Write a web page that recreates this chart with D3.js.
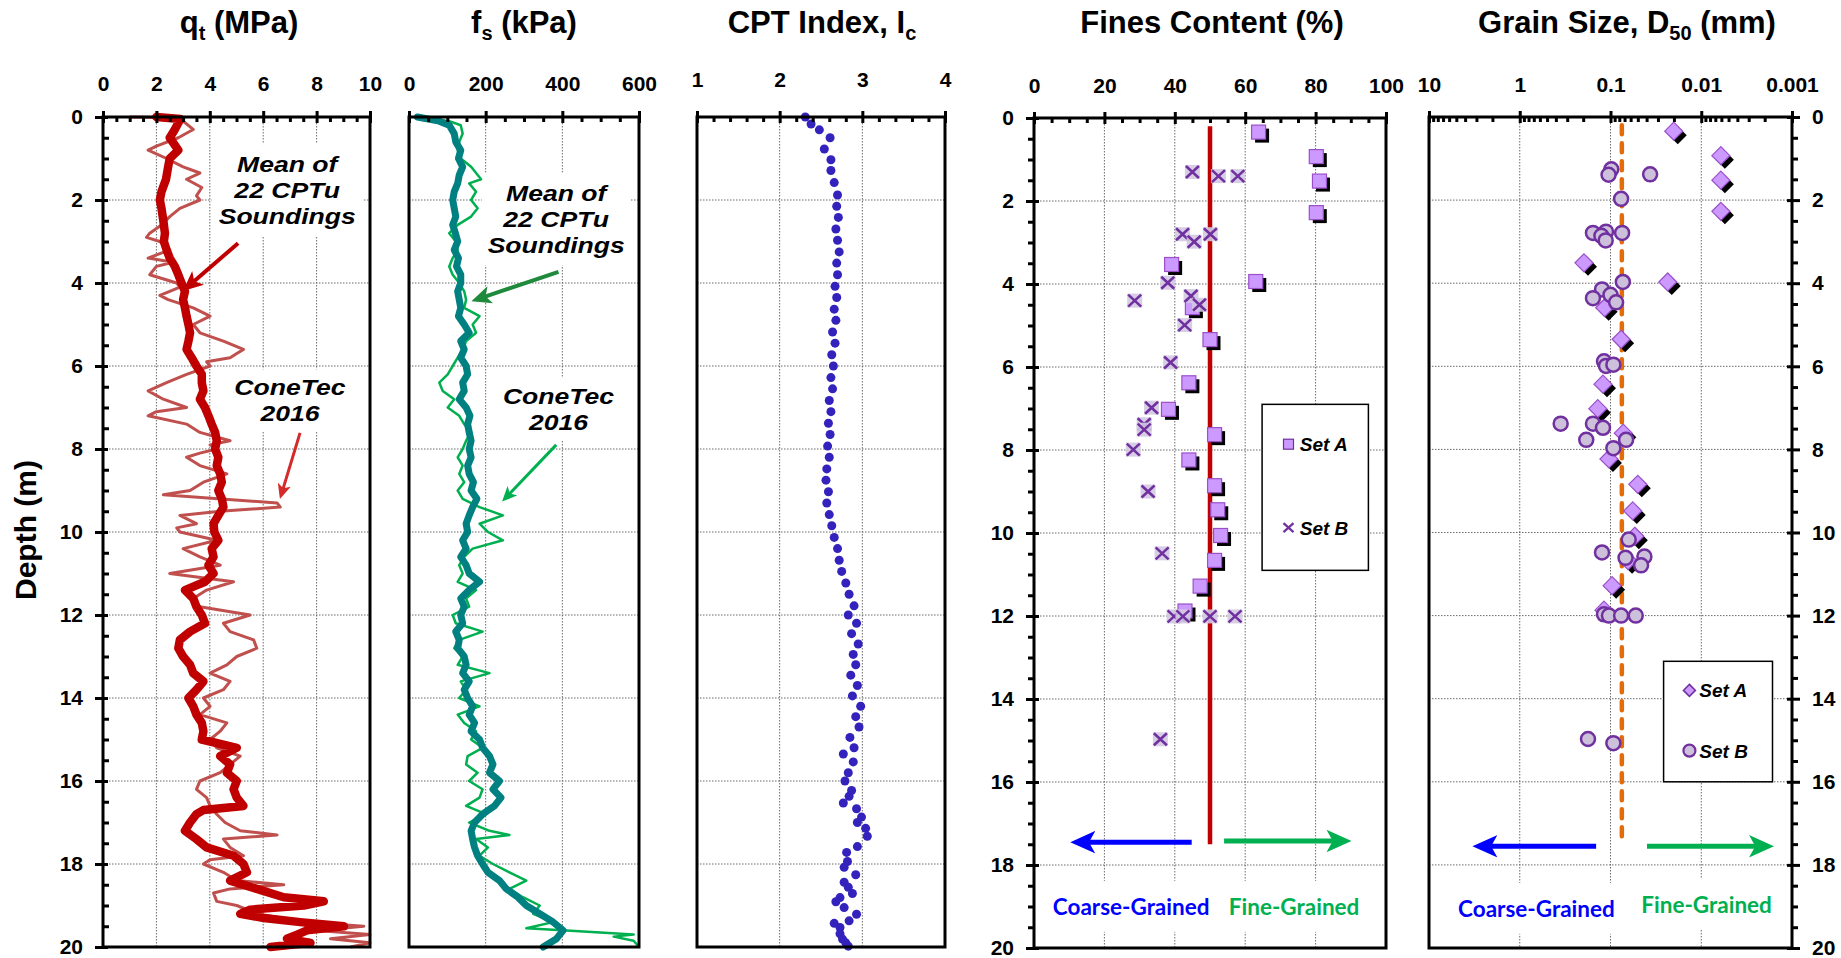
<!DOCTYPE html>
<html>
<head>
<meta charset="utf-8">
<script src="https://cdn.jsdelivr.net/npm/d3@7"></script>
<style>
  body { margin: 0; background: #fff; }
</style>
</head>
<body>
<svg id="chart" width="1841" height="958"></svg>
<script>
// ---- tick labels ----
const depthTicks = [0, 2, 4, 6, 8, 10, 12, 14, 16, 18, 20];
const qtTicks = [0, 2, 4, 6, 8, 10];
const fsTicks = [0, 200, 400, 600];
const icTicks = [1, 2, 3, 4];
const fcTicks = [0, 20, 40, 60, 80, 100];
const d50Ticks = [10, 1, 0.1, 0.01, 0.001];
const d50Labels = ['10', '1', '0.1', '0.01', '0.001'];

// ---- series: [depth (m), value] ----
const qtMean = [[0,2.0],[0.05,2.9],[0.3,2.69],[0.5,2.5],[0.8,2.82],[1.0,2.5],[1.2,2.44],[1.5,2.36],[1.8,2.19],[2.0,2.13],[2.2,2.19],[2.5,2.26],[2.8,2.32],[3.0,2.28],[3.2,2.38],[3.4,2.5],[3.6,2.69],[3.8,2.82],[4.0,2.94],[4.2,3.07],[4.4,3.0],[4.6,3.07],[4.8,3.13],[5.0,3.2],[5.2,3.26],[5.4,3.2],[5.6,3.13],[5.8,3.32],[6.0,3.5],[6.2,3.7],[6.4,3.7],[6.6,3.76],[6.8,3.63],[7.0,3.82],[7.2,3.95],[7.4,4.07],[7.6,4.2],[7.8,4.26],[8.0,4.2],[8.2,4.32],[8.4,4.26],[8.6,4.39],[8.8,4.45],[9.0,4.32],[9.2,4.45],[9.4,4.51],[9.6,4.32],[9.8,4.14],[10.0,4.17],[10.2,4.32],[10.4,4.07],[10.6,4.14],[10.8,3.95],[11.0,4.14],[11.2,3.82],[11.4,3.07],[11.6,3.38],[11.8,3.5],[12.0,3.7],[12.2,3.82],[12.4,3.26],[12.6,2.88],[12.8,2.82],[13.0,3.0],[13.2,3.26],[13.4,3.38],[13.6,3.76],[13.8,3.5],[14.0,3.2],[14.2,3.38],[14.4,3.5],[14.6,3.7],[14.8,3.76],[15.0,3.7],[15.2,5.01],[15.4,4.39],[15.6,4.76],[15.8,4.64],[16.0,5.01],[16.2,4.89],[16.4,5.01],[16.6,5.26],[16.7,3.76],[16.8,3.5],[17.0,3.26],[17.2,3.07],[17.4,3.5],[17.6,3.88],[17.8,4.89],[18.0,5.26],[18.2,5.39],[18.4,4.76],[18.6,5.76],[18.8,6.77],[18.9,8.27],[19.0,7.52],[19.1,5.51],[19.2,5.14],[19.3,6.02],[19.4,7.39],[19.5,9.02],[19.6,7.64],[19.7,7.27],[19.8,6.89],[19.9,7.77],[20.0,6.27]];

const qtConeTec = [[0,1.0],[0.02,3.0],[0.1,3.0],[0.3,3.38],[0.5,2.82],[0.7,2.0],[0.8,1.69],[1.0,2.38],[1.2,3.0],[1.35,3.63],[1.5,3.13],[1.7,3.7],[1.9,3.5],[2.0,3.63],[2.2,2.88],[2.4,2.5],[2.6,2.19],[2.8,1.75],[2.9,1.63],[3.0,2.13],[3.2,2.5],[3.4,1.69],[3.5,2.63],[3.6,2.0],[3.8,1.75],[4.0,2.76],[4.1,2.88],[4.2,2.5],[4.3,2.13],[4.4,2.44],[4.6,3.38],[4.8,4.01],[5.0,3.38],[5.2,3.63],[5.4,4.51],[5.6,5.26],[5.7,5.01],[5.8,4.76],[5.9,3.88],[6.0,4.01],[6.2,3.13],[6.4,2.38],[6.6,1.69],[6.8,2.26],[7.0,3.13],[7.1,2.0],[7.2,1.69],[7.4,3.13],[7.6,3.63],[7.8,4.76],[7.9,4.01],[8.0,4.26],[8.1,3.63],[8.2,3.13],[8.4,3.63],[8.6,4.64],[8.8,3.76],[9.0,3.26],[9.1,2.26],[9.3,6.52],[9.4,6.64],[9.5,4.39],[9.6,2.88],[9.8,3.5],[9.9,2.76],[10.0,2.88],[10.2,4.26],[10.4,3.0],[10.6,3.63],[10.8,4.39],[11.0,2.5],[11.2,4.89],[11.4,3.88],[11.6,3.38],[11.8,3.63],[12.0,5.51],[12.2,4.51],[12.4,4.76],[12.6,5.64],[12.8,5.76],[13.0,5.01],[13.2,4.64],[13.4,4.01],[13.6,4.76],[13.8,4.51],[14.0,3.76],[14.2,4.01],[14.4,3.63],[14.6,4.64],[14.8,4.39],[15.0,4.01],[15.2,4.26],[15.4,5.14],[15.6,4.76],[15.8,4.39],[16.0,3.63],[16.2,3.5],[16.4,3.88],[16.6,4.01],[16.8,4.26],[17.0,4.57],[17.2,5.14],[17.3,6.52],[17.4,4.51],[17.6,4.76],[17.8,5.26],[17.9,4.01],[18.0,3.76],[18.2,4.51],[18.4,5.01],[18.5,6.77],[18.6,4.76],[18.7,4.14],[18.9,4.26],[19.0,5.01],[19.2,5.76],[19.4,7.52],[19.5,9.77],[19.6,8.02],[19.7,10.0],[19.8,8.52],[19.9,10.0],[20.0,9.27]];

const fsMean = [[0,22],[0.1,79],[0.2,105],[0.4,118],[0.6,122],[0.8,135],[1.0,129],[1.2,140],[1.4,131],[1.6,127],[1.8,118],[2.0,114],[2.2,118],[2.4,122],[2.6,114],[2.8,121],[3.0,127],[3.2,118],[3.4,129],[3.6,124],[3.8,135],[4.0,135],[4.2,127],[4.4,131],[4.6,135],[4.8,129],[5.0,144],[5.2,157],[5.4,135],[5.6,144],[5.8,135],[6.0,149],[6.2,153],[6.4,140],[6.6,144],[6.8,131],[7.0,149],[7.2,159],[7.4,153],[7.6,157],[7.8,162],[8.0,157],[8.2,162],[8.4,153],[8.6,157],[8.8,168],[9.0,162],[9.2,177],[9.4,166],[9.6,157],[9.8,149],[10.0,153],[10.2,140],[10.4,149],[10.6,135],[10.8,149],[11.0,157],[11.2,184],[11.4,157],[11.6,135],[11.8,144],[12.0,135],[12.2,140],[12.4,122],[12.6,131],[12.8,127],[13.0,144],[13.2,149],[13.4,140],[13.6,157],[13.8,144],[14.0,153],[14.2,166],[14.4,157],[14.6,171],[14.8,162],[15.0,184],[15.2,192],[15.4,210],[15.6,219],[15.8,210],[16.0,236],[16.2,219],[16.4,240],[16.6,223],[16.8,192],[17.0,171],[17.2,162],[17.4,166],[17.6,171],[17.8,179],[18.0,192],[18.2,206],[18.4,236],[18.6,254],[18.8,284],[19.0,306],[19.2,341],[19.4,376],[19.6,402],[19.8,385],[20.0,350]];

const fsConeTec = [[0,22],[0.1,105],[0.2,135],[0.4,140],[0.6,131],[0.8,127],[1.0,135],[1.2,162],[1.5,188],[1.6,157],[1.8,175],[2.0,162],[2.2,179],[2.4,162],[2.6,127],[2.8,105],[3.0,122],[3.2,127],[3.4,114],[3.6,105],[3.8,114],[4.0,131],[4.2,144],[4.4,149],[4.6,144],[4.8,184],[5.0,166],[5.2,175],[5.4,149],[5.6,140],[5.8,127],[6.0,114],[6.2,101],[6.4,79],[6.6,88],[6.8,118],[7.0,101],[7.2,131],[7.4,144],[7.6,162],[7.8,149],[8.0,140],[8.2,127],[8.4,140],[8.6,131],[8.8,144],[9.0,127],[9.2,140],[9.4,184],[9.6,245],[9.8,184],[10.0,206],[10.2,245],[10.4,166],[10.6,144],[10.8,131],[11.0,140],[11.2,127],[11.4,175],[11.6,149],[11.8,157],[12.0,114],[12.2,122],[12.4,192],[12.6,131],[12.8,118],[13.0,140],[13.2,127],[13.4,210],[13.6,135],[13.8,149],[14.0,131],[14.2,184],[14.4,127],[14.6,144],[14.8,175],[15.0,162],[15.2,192],[15.4,153],[15.6,149],[15.8,179],[16.0,157],[16.2,192],[16.4,184],[16.6,149],[16.8,201],[17.0,157],[17.2,210],[17.3,262],[17.4,175],[17.6,206],[17.8,184],[18.0,219],[18.2,262],[18.4,306],[18.6,262],[18.8,297],[19.0,341],[19.2,324],[19.4,376],[19.55,306],[19.6,411],[19.7,586],[19.75,534],[19.85,586],[20.0,600]];

const icPoints = [[0.0,2.31],[0.17,2.38],[0.31,2.48],[0.5,2.61],[0.77,2.54],[1.03,2.62],[1.29,2.62],[1.58,2.66],[1.88,2.70],[2.15,2.69],[2.42,2.71],[2.7,2.68],[2.97,2.70],[3.25,2.72],[3.52,2.69],[3.8,2.70],[4.08,2.67],[4.35,2.69],[4.63,2.66],[4.9,2.68],[5.18,2.64],[5.45,2.67],[5.73,2.63],[6.0,2.65],[6.28,2.62],[6.55,2.64],[6.83,2.60],[7.1,2.62],[7.38,2.59],[7.65,2.61],[7.93,2.58],[8.2,2.60],[8.48,2.57],[8.75,2.56],[9.03,2.59],[9.3,2.57],[9.58,2.60],[9.85,2.63],[10.13,2.66],[10.4,2.70],[10.68,2.72],[10.95,2.75],[11.23,2.80],[11.5,2.84],[11.78,2.90],[12.0,2.83],[12.2,2.93],[12.45,2.87],[12.7,2.95],[12.95,2.89],[13.2,2.92],[13.45,2.86],[13.7,2.94],[13.95,2.88],[14.2,2.98],[14.45,2.92],[14.7,2.96],[14.95,2.85],[15.2,2.90],[15.35,2.77],[15.54,2.89],[15.8,2.83],[16.0,2.79],[16.23,2.87],[16.37,2.84],[16.53,2.77],[16.67,2.93],[16.87,2.99],[17.0,2.94],[17.14,3.04],[17.33,3.06],[17.58,2.94],[17.72,2.81],[17.94,2.82],[18.08,2.78],[18.26,2.92],[18.44,2.78],[18.56,2.83],[18.71,2.88],[18.81,2.73],[18.91,2.68],[19.05,2.78],[19.21,2.93],[19.37,2.84],[19.43,2.66],[19.53,2.73],[19.68,2.73],[19.81,2.76],[19.9,2.80],[19.98,2.83]];

const fcSetA = [[0.34,63.8],[0.93,80.2],[1.52,81.1],[2.28,80.2],[3.53,39.1],[3.94,63.0],[4.57,45.0],[5.34,50.0],[6.38,44.0],[7.02,38.2],[7.63,51.3],[8.24,44.0],[8.86,51.3],[9.44,52.2],[10.06,53.0],[10.66,51.3],[11.28,47.2],[11.88,42.9]];
const fcSetB = [[1.30,45.0],[1.40,52.4],[1.40,57.9],[2.80,42.2],[2.98,45.5],[2.80,50.1],[3.97,38.0],[4.40,28.6],[4.29,44.6],[4.50,47.0],[4.99,42.8],[5.89,38.8],[6.98,33.4],[7.38,31.3],[7.51,31.3],[7.99,28.2],[9.00,32.4],[10.49,36.4],[12.01,39.8],[12.01,42.3],[12.01,50.0],[12.01,57.1],[14.97,35.9]];
const fcBoundary = [[0.2,50],[17.5,50]];

const d50SetA = [[0.34,0.0201],[0.93,0.00608],[1.52,0.00608],[2.27,0.00608],[3.51,0.196],[3.97,0.0234],[4.59,0.116],[5.35,0.0764],[6.43,0.121],[7.02,0.138],[7.61,0.0723],[8.23,0.104],[8.84,0.050],[9.48,0.0569],[10.09,0.054],[10.68,0.064],[11.28,0.096],[11.87,0.118]];
const d50SetB = [[1.26,0.098],[1.39,0.105],[1.38,0.0366],[1.97,0.0764],[2.79,0.156],[2.76,0.112],[2.86,0.126],[2.97,0.113],[2.79,0.0745],[3.97,0.0731],[4.15,0.124],[4.28,0.1],[4.36,0.156],[4.46,0.0867],[5.88,0.118],[5.99,0.112],[5.96,0.093],[7.38,0.354],[7.38,0.156],[7.48,0.121],[7.77,0.185],[7.97,0.093],[7.77,0.0673],[10.17,0.063],[10.48,0.124],[10.61,0.0683],[10.58,0.0423],[10.79,0.046],[11.97,0.118],[12.0,0.104],[12.0,0.0764],[12.0,0.0527],[14.97,0.177],[15.07,0.093]];
const d50Boundary = [[0.2,0.075],[17.5,0.075]];

// ---- drawing ----
const FONT = 'Arial, "Liberation Sans", sans-serif';
const svg = d3.select('#chart');
const defs = svg.append('defs');

function arrowMarker(id, color) {
  defs.append('marker').attr('id', id)
    .attr('viewBox', '0 0 20 20').attr('refX', 11).attr('refY', 10)
    .attr('markerWidth', 5).attr('markerHeight', 5).attr('orient', 'auto')
    .append('path').attr('d', 'M0,1 L20,10 L0,19 L5,10 Z').attr('fill', color);
}
arrowMarker('ah-red', '#c00000');
arrowMarker('ah-red2', '#d42a2a');
arrowMarker('ah-dgreen', '#1f8a3c');
arrowMarker('ah-green', '#00b050');
arrowMarker('ah-blue', '#0000ff');

function panel(cfg) {
  const x = cfg.scale.range([cfg.x0, cfg.x1]);
  const y = d3.scaleLinear().domain([0, 20]).range([cfg.y0, cfg.y1]);
  const g = svg.append('g');
  const grid = g.append('g').attr('stroke', '#6a6a6a').attr('stroke-width', 1).attr('stroke-dasharray', '1.5,1.5');
  grid.selectAll('line.gv').data(cfg.grid).join('line').attr('class', 'gv')
    .attr('x1', d => x(d)).attr('x2', d => x(d)).attr('y1', cfg.y0).attr('y2', cfg.y1);
  grid.selectAll('line.gh').data(depthTicks.slice(1, -1)).join('line').attr('class', 'gh')
    .attr('x1', cfg.x0).attr('x2', cfg.x1).attr('y1', d => y(d)).attr('y2', d => y(d));
  const p = { x, y, cfg,
    boxes: g.append('g'), marks: g.append('g'), notes: g.append('g'), axes: g.append('g') };

  // top axis
  const ax = p.axes.append('g').attr('transform', `translate(0,${cfg.y0})`);
  ax.call(d3.axisTop(x).tickValues(cfg.ticks).tickFormat((d, i) => cfg.labels[i]).tickSize(6).tickPadding(cfg.pad));
  ax.append('g').call(d3.axisBottom(x).tickValues(cfg.ticks).tickFormat('').tickSize(6));
  ax.append('g').call(d3.axisBottom(x).tickValues(cfg.minor).tickFormat('').tickSize(5));
  ax.selectAll('.domain').remove();
  ax.selectAll('line').attr('stroke', '#000').attr('stroke-width', 3);
  ax.selectAll('text').style('font-family', FONT).style('font-size', '21px').style('font-weight', 'bold').attr('fill', '#000');

  // depth axis
  if (cfg.depthSide) {
    const left = cfg.depthSide === 'left';
    const dx = left ? cfg.x0 : cfg.x1;
    const outer = left ? d3.axisLeft : d3.axisRight;
    const inner = left ? d3.axisRight : d3.axisLeft;
    const dax = p.axes.append('g').attr('transform', `translate(${dx},0)`);
    dax.call(outer(y).tickValues(depthTicks).tickSize(8).tickPadding(12));
    dax.append('g').call(inner(y).tickValues(depthTicks).tickFormat('').tickSize(5));
    const minor = d3.range(0.5, 20, 0.5).filter(d => d % 2 !== 0);
    dax.append('g').call((cfg.minorOut ? outer : inner)(y).tickValues(minor).tickFormat('').tickSize(6));
    dax.selectAll('.domain').remove();
    dax.selectAll('line').attr('stroke', '#000').attr('stroke-width', 3);
    dax.selectAll('text').style('font-family', FONT).style('font-size', '21px').style('font-weight', 'bold').attr('fill', '#000');
  }
  // border
  p.axes.append('rect').attr('x', cfg.x0).attr('y', cfg.y0)
    .attr('width', cfg.x1 - cfg.x0).attr('height', cfg.y1 - cfg.y0)
    .attr('fill', 'none').attr('stroke', '#000').attr('stroke-width', 3);
  return p;
}

function title(cx, main, sub, rest) {
  const t = svg.append('text').attr('x', cx).attr('y', 33).attr('text-anchor', 'middle')
    .style('font-family', FONT).style('font-size', '31px').style('font-weight', 'bold');
  t.append('tspan').text(main);
  t.append('tspan').attr('dy', 7).style('font-size', '20px').text(sub);
  t.append('tspan').attr('dy', -7).text(rest);
}

// multi-line note with a white backing box; sx stretches it horizontally
function note(p, lines, cx, d0, lh, o) {
  const px0 = p.x(cx);
  const sx = o.sx || 1;
  const tf = `translate(${px0},0) scale(${sx},1) translate(${-px0},0)`;
  const t = p.notes.append('text').attr('text-anchor', 'middle').attr('transform', tf)
    .style('font-family', o.family || FONT).style('font-size', o.size + 'px')
    .style('font-weight', 'bold').style('font-style', o.italic ? 'italic' : 'normal')
    .attr('fill', o.color || '#000');
  lines.forEach((s, i) => t.append('tspan').attr('x', px0).attr('y', p.y(d0) + i * lh).text(s));
  const b = t.node().getBBox();
  const px = o.padX || 6, py = o.padY || 4;
  p.boxes.append('rect').attr('transform', tf).attr('x', b.x - px).attr('y', b.y - py)
    .attr('width', b.width + 2 * px).attr('height', b.height + 2 * py).attr('fill', '#fff');
}

function arrow(p, from, to, color, width, marker) {
  p.notes.append('line')
    .attr('x1', p.x(from[0])).attr('y1', p.y(from[1]))
    .attr('x2', p.x(to[0])).attr('y2', p.y(to[1]))
    .attr('stroke', color).attr('stroke-width', width)
    .attr('marker-end', `url(#${marker})`);
}

const line = p => d3.line().x(d => p.x(d[1])).y(d => p.y(d[0]));
const NOTE = { size: 22.5, italic: true, sx: 1.18 };
const GRAIN = { size: 22.5, family: 'Lato, "Open Sans", sans-serif', padX: 4, padY: 12 };

// ---- panel 1: qt ----
const p1 = panel({ scale: d3.scaleLinear().domain([0, 10]), x0: 103, x1: 370, y0: 117, y1: 947,
  ticks: qtTicks, labels: qtTicks.map(String), minor: d3.range(0.5, 10, 0.5).filter(d => d % 2 !== 0),
  grid: qtTicks.slice(1, -1), pad: 20, depthSide: 'left', minorOut: false });
p1.marks.append('path').datum(qtConeTec).attr('d', line(p1)).attr('fill', 'none')
  .attr('stroke', '#c0504d').attr('stroke-width', 3).attr('stroke-linejoin', 'round');
p1.marks.append('path').datum(qtMean).attr('d', line(p1)).attr('fill', 'none')
  .attr('stroke', '#c00000').attr('stroke-width', 8.5).attr('stroke-linejoin', 'round').attr('stroke-linecap', 'round');
note(p1, ['Mean of', '22 CPTu', 'Soundings'], 6.9, 1.33, 26, { ...NOTE, padX: 6, padY: 8 });
note(p1, ['ConeTec', '2016'], 7.0, 6.71, 26, { ...NOTE, padX: 6, padY: 6 });
arrow(p1, [5.06, 3.04], [3.25, 4.05], '#c00000', 4, 'ah-red');
arrow(p1, [7.38, 7.61], [6.7, 9.05], '#d42a2a', 3, 'ah-red2');

// ---- panel 2: fs ----
const p2 = panel({ scale: d3.scaleLinear().domain([0, 600]), x0: 409, x1: 639, y0: 117, y1: 947,
  ticks: fsTicks, labels: fsTicks.map(String), minor: d3.range(50, 600, 50).filter(d => d % 200 !== 0),
  grid: fsTicks.slice(1, -1), pad: 20, depthSide: null });
p2.marks.append('path').datum(fsConeTec).attr('d', line(p2)).attr('fill', 'none')
  .attr('stroke', '#00b050').attr('stroke-width', 2.5).attr('stroke-linejoin', 'round');
p2.marks.append('path').datum(fsMean).attr('d', line(p2)).attr('fill', 'none')
  .attr('stroke', '#008080').attr('stroke-width', 7).attr('stroke-linejoin', 'round').attr('stroke-linecap', 'round');
note(p2, ['Mean of', '22 CPTu', 'Soundings'], 384, 2.02, 26, { ...NOTE, padX: 5, padY: 8 });
note(p2, ['ConeTec', '2016'], 390, 6.92, 26, { ...NOTE, padX: 5, padY: 6 });
arrow(p2, [390, 3.73], [185, 4.37], '#1f8a3c', 4, 'ah-dgreen');
arrow(p2, [384, 7.9], [255, 9.15], '#00b050', 3, 'ah-green');

// ---- panel 3: Ic ----
const p3 = panel({ scale: d3.scaleLinear().domain([1, 4]), x0: 697, x1: 945, y0: 117, y1: 947,
  ticks: icTicks, labels: icTicks.map(String), minor: d3.range(1.2, 4, 0.2).filter(d => Math.abs(d - Math.round(d)) > 0.05),
  grid: icTicks.slice(1, -1), pad: 24, depthSide: null });
p3.marks.selectAll('circle').data(icPoints).join('circle')
  .attr('cx', d => p3.x(d[1])).attr('cy', d => p3.y(d[0])).attr('r', 4.5).attr('fill', '#3322bb');

// ---- panel 4: fines content ----
const p4 = panel({ scale: d3.scaleLinear().domain([0, 100]), x0: 1034, x1: 1386, y0: 118, y1: 948,
  ticks: fcTicks, labels: fcTicks.map(String), minor: d3.range(5, 100, 5).filter(d => d % 20 !== 0),
  grid: fcTicks.slice(1, -1), pad: 19, depthSide: 'left', minorOut: true });
p4.marks.append('path').datum(fcBoundary).attr('d', line(p4)).attr('stroke', '#c00000').attr('stroke-width', 4.5);
const sqA = p4.marks.selectAll('g.sa').data(fcSetA).join('g').attr('class', 'sa')
  .attr('transform', d => `translate(${p4.x(d[1])},${p4.y(d[0])})`);
sqA.append('rect').attr('x', -3.5).attr('y', -3.5).attr('width', 14).attr('height', 14).attr('fill', '#000');
sqA.append('rect').attr('x', -7).attr('y', -7).attr('width', 14).attr('height', 14)
  .attr('fill', '#cc99ff').attr('stroke', '#9b4fc9').attr('stroke-width', 1.2);
const xB = p4.marks.selectAll('g.sb').data(fcSetB).join('g').attr('class', 'sb')
  .attr('transform', d => `translate(${p4.x(d[1])},${p4.y(d[0])})`);
xB.append('rect').attr('x', -7.5).attr('y', -7).attr('width', 15).attr('height', 14).attr('fill', '#d3c9e2').attr('opacity', 0.9);
xB.append('path').attr('d', 'M-6.5,-6L6.5,6M-6.5,6L6.5,-6').attr('stroke', '#7030a0').attr('stroke-width', 2.6);
note(p4, ['Coarse-Grained'], 27.6, 19.2, 0, { ...GRAIN, color: '#0000ff' });
note(p4, ['Fine-Grained'], 73.9, 19.2, 0, { ...GRAIN, color: '#00b050' });
arrow(p4, [44.8, 17.45], [13.5, 17.45], '#0000ff', 5, 'ah-blue');
arrow(p4, [54, 17.42], [87, 17.42], '#00b050', 5, 'ah-green');
// legend
const lg4 = p4.notes.append('g');
lg4.append('rect').attr('x', p4.x(64.8)).attr('y', p4.y(6.9)).attr('width', p4.x(95) - p4.x(64.8))
  .attr('height', p4.y(10.9) - p4.y(6.9)).attr('fill', '#fff').attr('stroke', '#000').attr('stroke-width', 1.5);
lg4.append('rect').attr('x', p4.x(72.3) - 5).attr('y', p4.y(7.86) - 5).attr('width', 10).attr('height', 10)
  .attr('fill', '#cc99ff').attr('stroke', '#7030a0').attr('stroke-width', 1.2);
lg4.append('path').attr('d', `M${p4.x(72.3) - 5},${p4.y(9.87) - 4.5}l10,9m-10,0l10,-9`).attr('stroke', '#7030a0').attr('stroke-width', 2.2);
[['Set A', 7.86], ['Set B', 9.87]].forEach(([s, d]) => lg4.append('text').attr('x', p4.x(75.5)).attr('y', p4.y(d) + 7)
  .style('font-family', FONT).style('font-size', '19px').style('font-weight', 'bold').style('font-style', 'italic').text(s));

// ---- panel 5: D50 ----
const p5 = panel({ scale: d3.scaleLog().domain([10, 0.001]), x0: 1429, x1: 1792, y0: 117, y1: 948,
  ticks: d50Ticks, labels: d50Labels,
  minor: [1, 0.1, 0.01, 0.001].flatMap(b => d3.range(2, 10).map(k => b * k)),
  grid: d50Ticks.slice(1, -1), pad: 19, depthSide: 'right', minorOut: true });
p5.marks.append('path').datum(d50Boundary).attr('d', line(p5)).attr('stroke', '#e36c09')
  .attr('stroke-width', 4.5).attr('stroke-dasharray', '9,9').attr('stroke-linecap', 'round');
const dmA = p5.marks.selectAll('g.da').data(d50SetA).join('g').attr('class', 'da')
  .attr('transform', d => `translate(${p5.x(d[1])},${p5.y(d[0])})`);
dmA.append('path').attr('d', 'M4,-5L13,4L4,13L-5,4Z').attr('fill', '#000');
dmA.append('path').attr('d', 'M0,-9L9,0L0,9L-9,0Z').attr('fill', '#cc99ff').attr('stroke', '#9b4fc9').attr('stroke-width', 1.2);
p5.marks.selectAll('circle').data(d50SetB).join('circle')
  .attr('cx', d => p5.x(d[1])).attr('cy', d => p5.y(d[0])).attr('r', 7)
  .attr('fill', '#ccc0da').attr('stroke', '#7030a0').attr('stroke-width', 2.5);
note(p5, ['Coarse-Grained'], 0.655, 19.25, 0, { ...GRAIN, color: '#0000ff' });
note(p5, ['Fine-Grained'], 0.00873, 19.15, 0, { ...GRAIN, color: '#00b050' });
arrow(p5, [0.144, 17.55], [2.5, 17.55], '#0000ff', 5, 'ah-blue');
arrow(p5, [0.0396, 17.55], [0.0021, 17.55], '#00b050', 5, 'ah-green');
const lg5 = p5.notes.append('g');
lg5.append('rect').attr('x', p5.x(0.026)).attr('y', p5.y(13.1)).attr('width', p5.x(0.00164) - p5.x(0.026))
  .attr('height', p5.y(16.0) - p5.y(13.1)).attr('fill', '#fff').attr('stroke', '#000').attr('stroke-width', 1.5);
lg5.append('path').attr('d', `M${p5.x(0.0135)},${p5.y(13.8) - 6}l6,6l-6,6l-6,-6z`)
  .attr('fill', '#cc99ff').attr('stroke', '#7030a0').attr('stroke-width', 1.5);
lg5.append('circle').attr('cx', p5.x(0.0135)).attr('cy', p5.y(15.25)).attr('r', 6)
  .attr('fill', '#ccc0da').attr('stroke', '#7030a0').attr('stroke-width', 2.2);
[['Set A', 13.8], ['Set B', 15.25]].forEach(([s, d]) => lg5.append('text').attr('x', p5.x(0.0105)).attr('y', p5.y(d) + 7)
  .style('font-family', FONT).style('font-size', '19px').style('font-weight', 'bold').style('font-style', 'italic').text(s));

// ---- titles ----
title(239, 'q', 't', ' (MPa)');
title(524, 'f', 's', ' (kPa)');
title(822, 'CPT Index, I', 'c', '');
title(1212, 'Fines Content (%)', '', '');
title(1627, 'Grain Size, D', '50', ' (mm)');

svg.append('text').attr('transform', 'translate(36,530) rotate(-90)').attr('text-anchor', 'middle')
  .style('font-family', FONT).style('font-size', '30px').style('font-weight', 'bold').text('Depth (m)');
</script>
</body>
</html>
